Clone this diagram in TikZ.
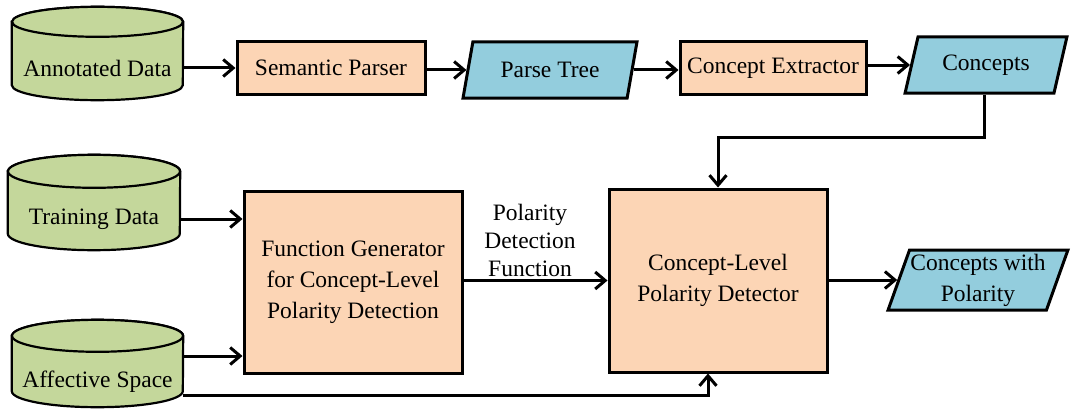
\documentclass[tikz,border=0pt]{standalone}
\usepackage{fontspec}
\setmainfont{Liberation Serif}
\definecolor{datagreen}{RGB}{196, 215, 155}
\definecolor{procorange}{RGB}{252, 213, 181}
\definecolor{outblue}{RGB}{147, 205, 221}
\usetikzlibrary{shapes.geometric, arrows.meta, positioning, calc}
\tikzset{
  base/.style={draw, line width=3pt, font=\fontsize{23.5}{31}\selectfont, inner sep=0pt, align=center},
  datastore/.style={rectangle, font=\fontsize{23.5}{31}\selectfont, inner sep=0pt, align=center},
  cylline/.style={draw, fill=datagreen, line width=2.2pt},
  procbox/.style={base, fill=procorange, rectangle},
  iobox/.style={base, fill=outblue, trapezium, trapezium left angle=68, trapezium right angle=112, trapezium stretches=true},
  arr/.style={line width=3pt, -{Straight Barb[length=10pt, width=17pt]}}
}
% cylinder drawn around the front part of a node: name, x radius, y radius
\newcommand{\drawstore}[3]{%
  \draw[cylline] ([yshift=#3]#1.north west) -- ([yshift=#3]#1.south west)
    arc[start angle=180, end angle=360, x radius=#2, y radius=#3]
    -- ([yshift=#3]#1.north east)
    arc[start angle=0, end angle=180, x radius=#2, y radius=#3] -- cycle;
  \draw[cylline] ([yshift=#3]#1.north) ellipse[x radius=#2, y radius=#3];
}

\begin{document}
\begin{tikzpicture}[x=1pt, y=-1pt]
  \useasboundingbox (0,0) rectangle (1071,412);

  % Data stores
  \node[datastore, minimum width=171pt, minimum height=63pt] (annot) at (97.5, 68.5) {};
  \node[datastore, minimum width=172pt, minimum height=62pt] (train) at (94, 219) {};
  \node[datastore, minimum width=171pt, minimum height=55pt] (affect) at (97.5, 379.5) {};
  \drawstore{annot}{85.5pt}{15pt}
  \drawstore{train}{86pt}{16.5pt}
  \drawstore{affect}{85.5pt}{16pt}
  \node[datastore] at (annot) {Annotated Data};
  \node[datastore] at (train) {Training Data};
  \node[datastore] at ([yshift=-2pt]affect.center) {Affective Space};

  % Top row
  \node[procbox, minimum width=188pt, minimum height=52pt] (parser) at (331, 68) {Semantic Parser};
  \node[iobox, minimum width=174pt, minimum height=56pt] (ptree) at (550, 70) {Parse Tree};
  \node[procbox, minimum width=186pt, minimum height=52pt] (extract) at (773, 68) {Concept Extractor};
  \node[iobox, minimum width=162pt, minimum height=56pt] (concepts) at (986, 65) {Concepts};

  % Bottom row
  \node[procbox, minimum width=218pt, minimum height=182pt] (fgen) at (353, 282) {Function Generator\\for Concept-Level\\Polarity Detection};
  \node[procbox, minimum width=218pt, minimum height=183pt] (detect) at (718, 280.5) {Concept-Level\\Polarity Detector};
  \node[iobox, minimum width=180pt, minimum height=60pt] (cwp) at (978, 280) {Concepts with\\Polarity};
  \node[font=\fontsize{23.5}{28}\selectfont, align=center] (fnlabel) at (530, 240) {Polarity\\Detection\\Function};

  % Connectors
  \draw[arr] (annot.east |- parser.west) -- (parser.west);
  \draw[arr] (parser.east |- ptree.west) -- (ptree.west);
  \draw[arr] (ptree.east) -- (ptree.east -| extract.west);
  \draw[arr] (extract.east |- concepts.west) -- (concepts.west);
  \coordinate (bend) at (984, 137);
  \draw[arr] (concepts.south -| bend) -- (bend) -| (detect.north);
  \draw[arr] (train.east) -- (train.east -| fgen.west);
  \draw[arr] (affect.east |- 0,356) -- (fgen.west |- 0,356);
  \draw[arr] (affect.east |- 0,395) -| ([xshift=-10pt]detect.south);
  \draw[arr] (fgen.east |- detect.west) -- (detect.west);
  \draw[arr] (detect.east |- cwp.west) -- (cwp.west);
\end{tikzpicture}
\end{document}
